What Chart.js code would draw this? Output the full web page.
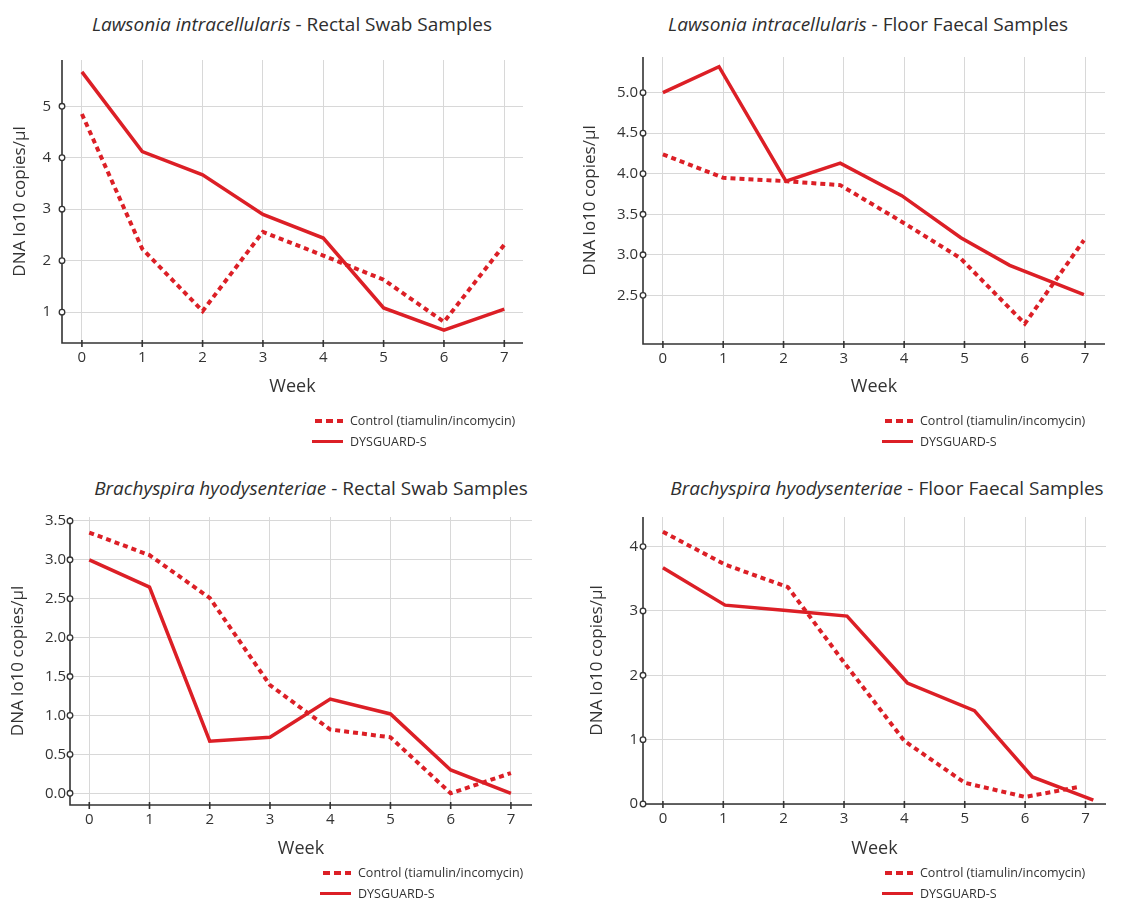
<!DOCTYPE html>
<html><head><meta charset="utf-8">
<script src="https://cdn.jsdelivr.net/npm/chart.js@4.4.1/dist/chart.umd.min.js"></script>
<style>
body{margin:0;background:#fff;width:1124px;height:900px;position:relative;overflow:hidden;font-family:'Open Sans',sans-serif;color:#333}
canvas{position:absolute}
.title{position:absolute;font-size:19px;line-height:24px;white-space:nowrap;transform:translateX(-50%);color:#2e2e2e}
.leg{position:absolute;font-size:12.5px;color:#333}
.leg div{display:flex;align-items:center;height:21px;white-space:nowrap}
.dash{width:28px;height:4px;margin-right:7px;background:repeating-linear-gradient(to right,#dc1f26 0 7px,transparent 7px 11px)}
.solid{width:31px;height:3px;margin-left:-3px;margin-right:7px;background:#dc1f26}
</style></head><body>
<div class="title" style="left:292px;top:12px"><i>Lawsonia intracellularis</i> - Rectal Swab Samples</div>
<div class="title" style="left:868px;top:12px"><i>Lawsonia intracellularis</i> - Floor Faecal Samples</div>
<div class="title" style="left:311px;top:476px"><i>Brachyspira hyodysenteriae</i> - Rectal Swab Samples</div>
<div class="title" style="left:887px;top:476px"><i>Brachyspira hyodysenteriae</i> - Floor Faecal Samples</div>

<canvas id="c1" width="545" height="380" style="left:0;top:40px"></canvas>
<canvas id="c2" width="564" height="380" style="left:560px;top:40px"></canvas>
<canvas id="c3" width="545" height="370" style="left:0;top:500px"></canvas>
<canvas id="c4" width="564" height="370" style="left:560px;top:500px"></canvas>

<div class="leg" style="left:315px;top:410px"><div><span class="dash"></span>Control (tiamulin/incomycin)</div><div><span class="solid"></span>DYSGUARD-S</div></div>
<div class="leg" style="left:885px;top:410px"><div><span class="dash"></span>Control (tiamulin/incomycin)</div><div><span class="solid"></span>DYSGUARD-S</div></div>
<div class="leg" style="left:323px;top:862px"><div><span class="dash"></span>Control (tiamulin/incomycin)</div><div><span class="solid"></span>DYSGUARD-S</div></div>
<div class="leg" style="left:885px;top:862px"><div><span class="dash"></span>Control (tiamulin/incomycin)</div><div><span class="solid"></span>DYSGUARD-S</div></div>

<script>
// ---- data ----
const weeks = [0, 1, 2, 3, 4, 5, 6, 7];
const weekLabels = ['0', '1', '2', '3', '4', '5', '6', '7'];
const seriesNames = ['Control (tiamulin/incomycin)', 'DYSGUARD-S'];

// Lawsonia intracellularis - Rectal Swab
const liRectalControl = [4.85, 2.23, 1.02, 2.56, 2.10, 1.63, 0.81, 2.31];
const liRectalDysguard = [5.67, 4.12, 3.67, 2.90, 2.44, 1.08, 0.65, 1.06];
const liRectalYTicks = [1, 2, 3, 4, 5];
const liRectalYLabels = ['1', '2', '3', '4', '5'];

// Lawsonia intracellularis - Floor Faecal
const liFloorControlWeek = [0, 1, 2, 2.94, 4, 4.93, 6, 6.98];
const liFloorControl = [4.24, 3.95, 3.91, 3.86, 3.39, 2.96, 2.15, 3.18];
const liFloorDysguardWeek = [0, 0.93, 2.04, 2.94, 3.96, 4.94, 5.75, 6.98];
const liFloorDysguard = [5.00, 5.32, 3.91, 4.13, 3.73, 3.21, 2.87, 2.51];
const liFloorYTicks = [2.5, 3.0, 3.5, 4.0, 4.5, 5.0];
const liFloorYLabels = ['2.5', '3.0', '3.5', '4.0', '4.5', '5.0'];

// Brachyspira hyodysenteriae - Rectal Swab
const bhRectalControl = [3.35, 3.06, 2.51, 1.39, 0.82, 0.72, 0.00, 0.26];
const bhRectalDysguard = [3.00, 2.65, 0.67, 0.72, 1.21, 1.02, 0.30, 0.00];
const bhRectalYTicks = [0, 0.5, 1.0, 1.5, 2.0, 2.5, 3.0, 3.5];
const bhRectalYLabels = ['0.0', '0.5', '1.0', '1.5', '2.0', '2.5', '3.0', '3.5'];

// Brachyspira hyodysenteriae - Floor Faecal
const bhFloorControlWeek = [0, 1.03, 2.07, 3, 4, 5, 6, 6.92];
const bhFloorControl = [4.23, 3.72, 3.37, 2.20, 0.98, 0.33, 0.11, 0.27];
const bhFloorDysguardWeek = [0, 1.03, 2, 3.05, 4.05, 5.16, 6.12, 7.13];
const bhFloorDysguard = [3.67, 3.09, 3.01, 2.92, 1.88, 1.45, 0.42, 0.06];
const bhFloorYTicks = [0, 1, 2, 3, 4];
const bhFloorYLabels = ['0', '1', '2', '3', '4'];

const RED = '#dc1f26';
const TXT = '#333333';
const FAMILY = "'Open Sans', sans-serif";

const axisPlugin = {
  id: 'customAxes',
  afterDatasetsDraw(chart) {
    const {ctx, chartArea: a, scales: {x, y}} = chart;
    ctx.save();
    ctx.strokeStyle = '#333';
    ctx.lineWidth = 1.6;
    ctx.beginPath();
    ctx.moveTo(a.left, a.top);
    ctx.lineTo(a.left, a.bottom);
    ctx.lineTo(a.right, a.bottom);
    ctx.stroke();
    x.ticks.forEach(t => {
      const px = x.getPixelForValue(t.value);
      ctx.beginPath();
      ctx.moveTo(px, a.bottom - 3);
      ctx.lineTo(px, a.bottom + 4);
      ctx.stroke();
    });
    ctx.lineWidth = 1.3;
    ctx.fillStyle = '#fff';
    y.ticks.forEach(t => {
      const py = y.getPixelForValue(t.value);
      ctx.beginPath();
      ctx.arc(a.left, py, 2.8, 0, Math.PI * 2);
      ctx.fill();
      ctx.stroke();
    });
    ctx.restore();
  }
};

function pts(xs, ys) { return xs.map((x, i) => ({x: x, y: ys[i]})); }

function makeChart(id, c) {
  new Chart(document.getElementById(id), {
    type: 'line',
    data: {
      datasets: [
        {label: seriesNames[0], data: pts(c.ctrlX, c.ctrl), borderColor: RED, backgroundColor: RED,
         borderWidth: 4, borderDash: [5, 4], borderCapStyle: 'butt', pointRadius: 0, tension: 0, fill: false},
        {label: seriesNames[1], data: pts(c.dysX, c.dys), borderColor: RED, backgroundColor: RED,
         borderWidth: 3.5, pointRadius: 0, tension: 0, fill: false}
      ]
    },
    options: {
      responsive: false, animation: false, devicePixelRatio: 1,
      layout: {padding: {top: c.pt, right: c.pr, left: 0, bottom: 0}},
      plugins: {legend: {display: false}, tooltip: {enabled: false}, title: {display: false}},
      scales: {
        x: {
          type: 'linear', min: c.xmin, max: c.xmax,
          afterBuildTicks: a => { a.ticks = weeks.map(v => ({value: v})); },
          ticks: {callback: (v, i) => weekLabels[i], padding: 6, autoSkip: false, maxRotation: 0,
                  font: {size: 15, family: FAMILY}, color: TXT},
          grid: {color: '#d8d8d8', lineWidth: 1, drawTicks: false},
          border: {display: false},
          title: {display: true, text: 'Week', color: TXT, font: {size: 18, family: FAMILY},
                  padding: {top: 0, bottom: c.xtb}},
          afterFit: s => { s.height = c.xh; }
        },
        y: {
          type: 'linear', min: c.ymin, max: c.ymax,
          afterBuildTicks: a => { a.ticks = c.yTicks.map(v => ({value: v})); },
          ticks: {callback: (v, i) => c.yLabels[i], padding: c.ylp, autoSkip: false,
                  font: {size: 15, family: FAMILY}, color: TXT},
          grid: {color: '#d8d8d8', lineWidth: 1, drawTicks: false},
          border: {display: false},
          title: {display: true, text: 'DNA lo10 copies/µl', color: TXT, font: {size: 17, family: FAMILY},
                  padding: {top: c.ytp, bottom: 0}},
          afterFit: s => { s.width = c.yw; }
        }
      }
    },
    plugins: [axisPlugin]
  });
}

makeChart('c1', {ctrlX: weeks, ctrl: liRectalControl, dysX: weeks, dys: liRectalDysguard,
  yTicks: liRectalYTicks, yLabels: liRectalYLabels, xmin: -0.33, xmax: 7.31, ymin: 0.40, ymax: 5.90,
  pt: 17, pr: 22, xh: 77, yw: 62, xtb: 22, ytp: 9.5, ylp: 11});
makeChart('c2', {ctrlX: liFloorControlWeek, ctrl: liFloorControl, dysX: liFloorDysguardWeek, dys: liFloorDysguard,
  yTicks: liFloorYTicks, yLabels: liFloorYLabels, xmin: -0.33, xmax: 7.33, ymin: 1.90, ymax: 5.44,
  pt: 17, pr: 19, xh: 76, yw: 83, xtb: 22, ytp: 19.5, ylp: 5});
makeChart('c3', {ctrlX: weeks, ctrl: bhRectalControl, dysX: weeks, dys: bhRectalDysguard,
  yTicks: bhRectalYTicks, yLabels: bhRectalYLabels, xmin: -0.32, xmax: 7.35, ymin: -0.15, ymax: 3.55,
  pt: 17, pr: 13, xh: 65, yw: 70, xtb: 10, ytp: 8, ylp: 4});
makeChart('c4', {ctrlX: bhFloorControlWeek, ctrl: bhFloorControl, dysX: bhFloorDysguardWeek, dys: bhFloorDysguard,
  yTicks: bhFloorYTicks, yLabels: bhFloorYLabels, xmin: -0.33, xmax: 7.34, ymin: 0, ymax: 4.46,
  pt: 17, pr: 18, xh: 66, yw: 83, xtb: 10, ytp: 26.5, ylp: 5});
</script>
</body></html>
